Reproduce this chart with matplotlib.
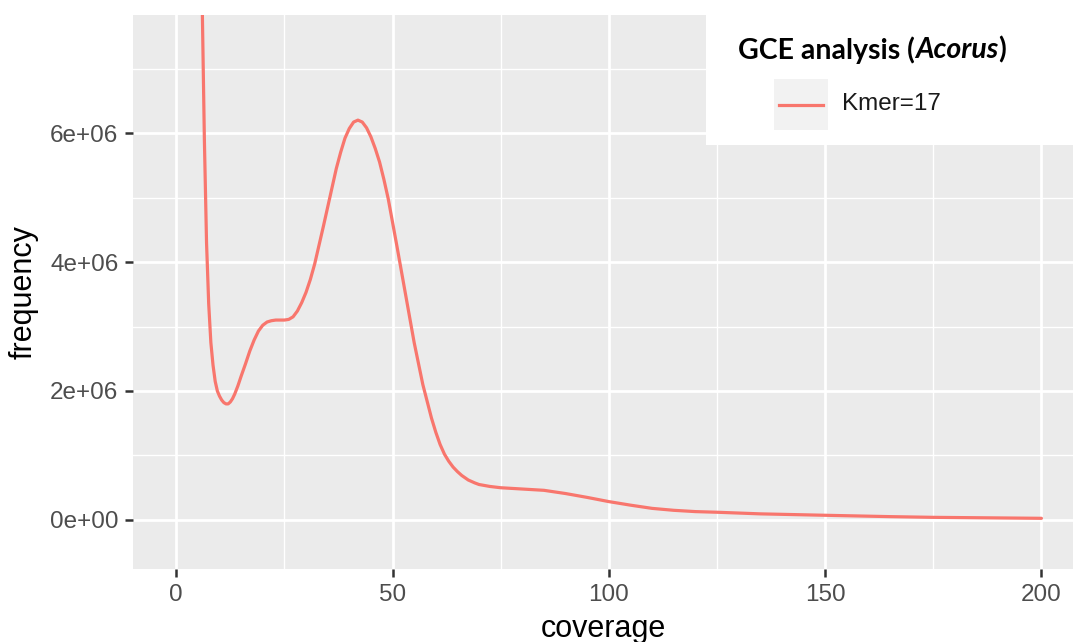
import matplotlib
matplotlib.use("Agg")
import matplotlib.pyplot as plt
from matplotlib.patches import Rectangle
from matplotlib.lines import Line2D

# ---- data ----
coverage = [5.0, 5.5, 6.0, 6.5, 7.0, 7.5, 8.0, 8.5, 9.0, 9.5, 10.0, 10.5, 11.0,
            11.5, 12.0, 12.5, 13.0, 13.5, 14.25, 15.0, 16.0, 17.0, 18.0, 19.0,
            20.0, 21.0, 22.0, 23.0, 25.0, 26.0, 27.0, 28.0, 29.0, 30.0, 31.0,
            32.0, 34.0, 36.0, 37.0, 38.0, 39.0, 40.0, 41.0, 42.0, 43.0, 44.0,
            45.0, 46.0, 47.0, 48.0, 49.0, 51.0, 53.0, 55.0, 57.0, 59.0, 60.0,
            61.0, 62.0, 63.0, 64.0, 65.0, 66.0, 67.5, 69.0, 70.0, 72.5, 75.0,
            80.0, 85.0, 90.0, 95.0, 100.0, 105.0, 110.0, 115.0, 120.0, 125.0,
            135.0, 150.0, 165.0, 175.0, 190.0, 200.0]
frequency_m = [14.0, 10.5, 8.0, 5.9, 4.3, 3.35, 2.75, 2.4, 2.15, 2.0, 1.92,
               1.86, 1.82, 1.80, 1.80, 1.83, 1.88, 1.95, 2.08, 2.23, 2.42, 2.62,
               2.79, 2.93, 3.02, 3.07, 3.09, 3.10, 3.10, 3.11, 3.15, 3.24, 3.37,
               3.53, 3.73, 3.97, 4.55, 5.15, 5.45, 5.70, 5.92, 6.07, 6.17, 6.20,
               6.17, 6.08, 5.94, 5.76, 5.55, 5.28, 4.98, 4.25, 3.50, 2.75, 2.10,
               1.58, 1.36, 1.17, 1.02, 0.91, 0.82, 0.75, 0.69, 0.62, 0.575, 0.55,
               0.52, 0.50, 0.48, 0.46, 0.41, 0.35, 0.285, 0.23, 0.18, 0.15, 0.13,
               0.12, 0.095, 0.073, 0.052, 0.041, 0.032, 0.026]
frequency = [v * 1e6 for v in frequency_m]

x_ticks = [0, 50, 100, 150, 200]
y_ticks = [0, 2e6, 4e6, 6e6]
y_tick_labels = ["0e+00", "2e+06", "4e+06", "6e+06"]
series_label = "Kmer=17"
legend_title_parts = ["GCE analysis (", "Acorus", ")"]
line_color = "#F8766D"

W, H = 1073, 642
fig = plt.figure(figsize=(W / 100, H / 100), dpi=100)
fig.patch.set_facecolor("white")

ax = fig.add_axes([133 / W, 1 - 569 / H, 1 - 133 / W, (569 - 15) / H])
ax.set_facecolor("#EBEBEB")
for s in ax.spines.values():
    s.set_visible(False)

ax.plot(coverage, frequency, color=line_color, lw=2.3, solid_capstyle="round",
        solid_joinstyle="round", zorder=3)

ax.set_xlim(-10, 207.3)
ax.set_ylim(-0.76e6, 7.83e6)

ax.set_xticks(x_ticks)
ax.set_xticks([25, 75, 125, 175], minor=True)
ax.set_yticks(y_ticks)
ax.set_yticklabels(y_tick_labels)
ax.set_yticks([1e6, 3e6, 5e6, 7e6], minor=True)

ax.grid(True, which="major", color="white", lw=2.0)
ax.grid(True, which="minor", color="white", lw=1.0)
ax.set_axisbelow(True)

fam = ["Liberation Sans", "DejaVu Sans"]
ax.tick_params(axis="both", which="major", length=5.5, width=1.8,
               color="#333333", labelcolor="#4D4D4D", labelsize=17.5, pad=5)
ax.tick_params(axis="both", which="minor", length=0)
for lab in ax.get_xticklabels() + ax.get_yticklabels():
    lab.set_family(fam)

ax.set_xlabel("coverage", fontsize=22, family=fam, color="black", labelpad=6)
ax.set_ylabel("frequency", fontsize=22, family=fam, color="black", labelpad=8)

# ---- legend (ggplot-style, drawn on the figure) ----
box = Rectangle((706 / W, 1 - 145 / H), 1 - 706 / W, 145 / H,
                transform=fig.transFigure, facecolor="white", edgecolor="none",
                zorder=10)
fig.patches.append(box)
key = Rectangle((774 / W, 1 - 130 / H), 54 / W, 51 / H,
                transform=fig.transFigure, facecolor="#F2F2F2",
                edgecolor="none", zorder=11)
fig.patches.append(key)
fig.lines.append(Line2D([779 / W, 823 / W], [1 - 105 / H, 1 - 105 / H],
                        transform=fig.transFigure, color=line_color, lw=2.3,
                        zorder=12))
fig.text(842 / W, 1 - 104 / H, series_label, fontsize=17.5, family=fam,
         color="#1A1A1A", va="center", ha="left", zorder=12)

tfam = ["Lato", "DejaVu Sans"]
fig.canvas.draw()
renderer = fig.canvas.get_renderer()
x0 = 738 / W
ty = 1 - 50 / H
styles = ["normal", "italic", "normal"]
for part, st in zip(legend_title_parts, styles):
    t = fig.text(x0, ty, part, fontsize=20.5, family=tfam, weight="bold",
                 style=st, color="black", va="center", ha="left", zorder=12)
    bb = t.get_window_extent(renderer)
    x0 = fig.transFigure.inverted().transform((bb.x1, bb.y0))[0]

fig.savefig("out.png", dpi=100, facecolor="white")
